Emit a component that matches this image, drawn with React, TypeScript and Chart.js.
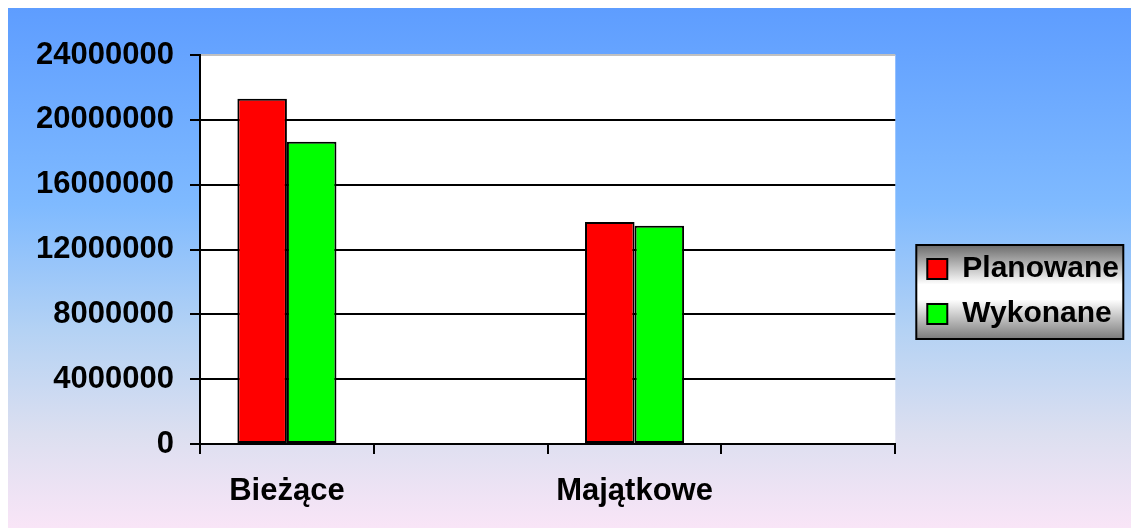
import React, { useEffect, useRef } from 'react';
import { Chart, registerables } from 'chart.js';

Chart.register(...registerables);

const categories = ['Bieżące', '', 'Majątkowe', ''];
const planowane = [21300000, null, 13700000, null];
const wykonane = [18650000, null, 13470000, null];
const yTickLabels = ['0', '4000000', '8000000', '12000000', '16000000', '20000000', '24000000'];
const seriesNames = ['Planowane', 'Wykonane'];
const seriesColors = ['#ff0000', '#00ff00'];
const yMin = 0;
const yMax = 24000000;
const yStep = 4000000;

const FONT = "'Liberation Sans', Arial, sans-serif";
const LEGEND_PAD = 15;
const LEGEND_FONT = 30;

const bgPlugin = {
  id: 'bgPlugin',
  beforeDraw(chart: any) {
    const { ctx, chartArea: a, legend } = chart;
    ctx.save();
    ctx.fillStyle = '#ffffff';
    ctx.fillRect(a.left, a.top, a.right - a.left, a.bottom - a.top);
    if (legend) {
      const itemH = LEGEND_FONT;
      const colH = 2 * (itemH + LEGEND_PAD);
      const start = (legend.top + LEGEND_PAD + legend.bottom - colH) / 2;
      const c1 = start + itemH / 2;
      const c2 = start + itemH + LEGEND_PAD + itemH / 2;
      const bx = legend.left + LEGEND_PAD;
      const x0 = bx - 11;
      const x1 = bx + 196;
      const y0 = c1 - 24;
      const y1 = c2 + 25;
      const g = ctx.createLinearGradient(0, y0, 0, y1);
      g.addColorStop(0, '#6c6c6c');
      g.addColorStop(0.42, '#ffffff');
      g.addColorStop(0.58, '#ffffff');
      g.addColorStop(1, '#7a7a7a');
      ctx.fillStyle = g;
      ctx.fillRect(x0, y0, x1 - x0, y1 - y0);
      ctx.lineWidth = 2;
      ctx.strokeStyle = '#000';
      ctx.strokeRect(x0, y0, x1 - x0, y1 - y0);
    }
    ctx.restore();
  },
};

export default function App() {
  const canvasRef = useRef<HTMLCanvasElement>(null);

  useEffect(() => {
    document.documentElement.style.overflow = 'hidden';
    const canvas = canvasRef.current;
    if (!canvas) return;
    const chart = new Chart(canvas, {
      type: 'bar',
      data: {
        labels: categories,
        datasets: [
          {
            label: seriesNames[0],
            data: planowane,
            backgroundColor: seriesColors[0],
            borderColor: '#000',
            borderWidth: 2,
            borderSkipped: false,
            categoryPercentage: 0.57,
            barPercentage: 1,
            xAxisID: 'x',
            yAxisID: 'y',
          },
          {
            label: seriesNames[1],
            data: wykonane,
            backgroundColor: seriesColors[1],
            borderColor: '#000',
            borderWidth: 2,
            borderSkipped: false,
            categoryPercentage: 0.57,
            barPercentage: 1,
            xAxisID: 'x',
            yAxisID: 'y',
          },
        ],
      },
      options: {
        animation: false,
        responsive: true,
        maintainAspectRatio: false,
        layout: { padding: { left: 0, top: 47, right: 2, bottom: 0 } },
        plugins: {
          tooltip: { enabled: false },
          legend: {
            position: 'right',
            align: 'center',
            maxWidth: 400,
            labels: {
              boxWidth: 20,
              boxHeight: 20,
              padding: LEGEND_PAD,
              color: '#000',
              font: { family: FONT, size: LEGEND_FONT, weight: 'bold' },
            },
          },
        },
        scales: {
          x: {
            type: 'category',
            grid: {
              offset: true,
              drawOnChartArea: false,
              drawTicks: true,
              tickLength: 10,
              color: '#000',
              lineWidth: 2,
            },
            border: { display: true, color: '#000', width: 2 },
            ticks: {
              autoSkip: false,
              maxRotation: 0,
              padding: 19,
              color: '#000',
              font: { family: FONT, size: 31, weight: 'bold' },
            },
            afterFit: (s: any) => {
              s.height = 84;
            },
          },
          y: {
            type: 'linear',
            position: 'left',
            min: yMin,
            max: yMax,
            ticks: {
              stepSize: yStep,
              padding: 16,
              color: '#000',
              font: { family: FONT, size: 31, weight: 'bold' },
              callback: (_v: any, i: number) => yTickLabels[i],
            },
            grid: {
              color: (c: any) => (c.tick && c.tick.value === yMax ? '#c0c0c0' : '#000'),
              tickColor: '#000',
              lineWidth: 2,
              tickLength: 10,
            },
            border: { display: true, color: '#000', width: 2 },
            afterFit: (s: any) => {
              s.width = 192;
            },
          },
          gap: {
            type: 'linear',
            position: 'right',
            display: true,
            grid: { display: false, drawTicks: false },
            border: { display: false },
            ticks: { display: false },
            afterFit: (s: any) => {
              s.width = 17;
            },
          },
        },
      } as any,
      plugins: [bgPlugin],
    });
    return () => chart.destroy();
  }, []);

  return (
    <div
      style={{
        position: 'fixed',
        left: 8,
        top: 8,
        width: 1123,
        height: 520,
        background:
          'linear-gradient(to bottom, #5e9dff 0%, #7fbaff 38%, #b4d2f4 62%, #dcdff0 82%, #f9e5f7 100%)',
      }}
    >
      <canvas ref={canvasRef} />
    </div>
  );
}
